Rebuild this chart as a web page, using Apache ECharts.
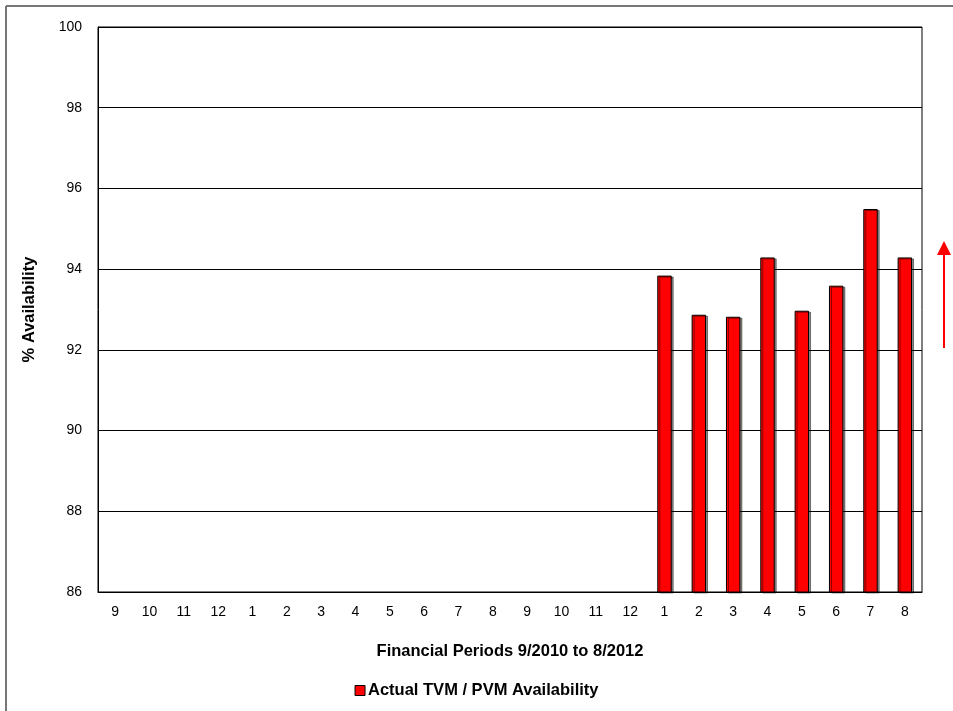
<!DOCTYPE html>
<html>
<head>
<meta charset="utf-8">
<script src="https://cdn.jsdelivr.net/npm/echarts@6/dist/echarts.min.js"></script>
<style>
  html, body { margin: 0; padding: 0; background: #fff; }
  #chart { width: 953px; height: 711px; }
</style>
</head>
<body>
<div id="chart"></div>
<script>
// Financial periods 9/2010 .. 8/2012 (month numbers)
const periods = ['9','10','11','12','1','2','3','4','5','6','7','8',
                 '9','10','11','12','1','2','3','4','5','6','7','8'];
// Actual TVM / PVM availability (%); no data before period 1/2012
const availability = [null,null,null,null,null,null,null,null,null,null,null,null,
                      null,null,null,null,93.84,92.87,92.82,94.29,92.97,93.59,95.49,94.29];
const yTicks = { min: 86, max: 100, step: 2 };
const seriesName = 'Actual TVM / PVM Availability';

const font = '"Liberation Sans", Arial, sans-serif';
const chart = echarts.init(document.getElementById('chart'));

chart.setOption({
  animation: false,
  backgroundColor: '#fff',
  textStyle: { fontFamily: font },
  grid: {
    left: 98, right: 31, top: 27, bottom: 119,
    show: true, borderColor: '#000', borderWidth: 1, backgroundColor: 'transparent'
  },
  legend: {
    data: [{ name: seriesName, icon: 'rect' }],
    top: 677, left: 'center',
    itemWidth: 10, itemHeight: 10, itemGap: 4,
    textStyle: { fontFamily: font, fontSize: 16.5, fontWeight: 'bold', color: '#000', padding: [0, 0, 0, -2] },
    itemStyle: { borderColor: '#000', borderWidth: 1 }
  },
  xAxis: {
    type: 'category',
    data: periods,
    name: 'Financial Periods 9/2010 to 8/2012',
    nameLocation: 'middle',
    nameGap: 51,
    nameTextStyle: { fontFamily: font, fontSize: 16.5, fontWeight: 'bold', color: '#000' },
    axisLine: { lineStyle: { color: '#000', width: 1 } },
    axisTick: { show: false },
    axisLabel: { color: '#000', fontSize: 14, fontFamily: font, margin: 13, interval: 0 }
  },
  yAxis: {
    type: 'value',
    min: yTicks.min, max: yTicks.max, interval: yTicks.step,
    name: '% Availability',
    nameLocation: 'middle',
    nameGap: 60,
    nameRotate: 90,
    nameTextStyle: { fontFamily: font, fontSize: 16.5, fontWeight: 'bold', color: '#000' },
    axisLine: { show: true, lineStyle: { color: '#000', width: 1 } },
    axisTick: { show: false },
    axisLabel: { color: '#000', fontSize: 14, fontFamily: font, margin: 16 },
    splitLine: { lineStyle: { color: '#000', width: 1 } }
  },
  series: [{
    name: seriesName,
    type: 'bar',
    data: availability,
    barWidth: '42%',
    itemStyle: {
      color: '#ff0000',
      borderColor: '#000',
      borderWidth: 1,
      shadowColor: 'rgba(0,0,0,0.45)',
      shadowOffsetX: 2,
      shadowOffsetY: 1,
      shadowBlur: 0
    }
  }],
  graphic: [
    // outer frame edges (top and left)
    { type: 'line', shape: { x1: 6, y1: 6, x2: 953, y2: 6 }, style: { stroke: '#777', lineWidth: 2 }, silent: true },
    { type: 'line', shape: { x1: 6, y1: 6, x2: 6, y2: 711 }, style: { stroke: '#777', lineWidth: 2 }, silent: true },
    // upward trend arrow
    { type: 'line', shape: { x1: 944, y1: 252, x2: 944, y2: 348 }, style: { stroke: '#ff0000', lineWidth: 2 }, silent: true },
    { type: 'polygon', shape: { points: [[944, 241], [937, 255], [951, 255]] }, style: { fill: '#ff0000' }, silent: true }
  ]
});
</script>
</body>
</html>
